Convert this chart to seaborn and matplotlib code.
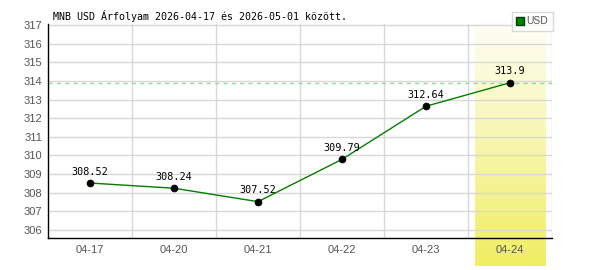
import numpy as np
import pandas as pd
import matplotlib
matplotlib.use("Agg")
import matplotlib.pyplot as plt
import matplotlib.transforms as mtransforms
from matplotlib.colors import LinearSegmentedColormap
from matplotlib.lines import Line2D
import seaborn as sns

dates = ["04-17", "04-20", "04-21", "04-22", "04-23", "04-24"]
rates = [308.52, 308.24, 307.52, 309.79, 312.64, 313.9]
y_ticks = [306, 307, 308, 309, 310, 311, 312, 313, 314, 315, 316, 317]
currency = "USD"
title = "MNB USD Árfolyam 2026-04-17 és 2026-05-01 között."
reference_value = rates[-1]

df = pd.DataFrame({"date": dates, "rate": rates})

sns.set_theme(style="white")
plt.rcParams["font.family"] = ["Liberation Sans", "DejaVu Sans"]

fig = plt.figure(figsize=(6, 2.7), dpi=100)
ax = fig.add_axes([0.08, 0.1185, 0.84, 0.7925])

# highlight gradient column for last day
cmap = LinearSegmentedColormap.from_list("hl", ["#fefef6", "#f0ee62"])
grad = np.linspace(0, 1, 256).reshape(-1, 1)
trans = mtransforms.blended_transform_factory(ax.transData, ax.transAxes)
last = len(dates) - 1
ax.imshow(grad, cmap=cmap, aspect="auto", origin="upper",
          extent=[last - 0.42, last + 0.42, -0.13, 1.005],
          transform=trans, clip_on=False, zorder=0.5)

# grid
for yt in y_ticks:
    ax.axhline(yt, color="#d8d8d8", lw=1, zorder=0.6)
for i in range(len(dates)):
    ax.axvline(i + 0.5, color="#d8d8d8", lw=1, zorder=0.6)

ax.axhline(reference_value, color="#90dc90", lw=1, ls=(0, (3, 3)), zorder=1)

sns.lineplot(data=df, x="date", y="rate", color="#008000", lw=1, ax=ax,
             zorder=2, legend=False)
sns.scatterplot(data=df, x="date", y="rate", color="black", s=26, ax=ax,
                zorder=3, legend=False, edgecolor="black")

for i, v in enumerate(rates):
    ax.annotate(f"{v:g}", (i, v), xytext=(0, 4.5), textcoords="offset points",
                ha="center", va="bottom", fontsize=7.3, family="DejaVu Sans Mono",
                color="black", zorder=4)

ax.set_xlim(-0.5, len(dates) - 0.5)
ax.set_ylim(305.57, 317.05)
ax.set_yticks(y_ticks)
ax.set_yticklabels([str(t) for t in y_ticks])
ax.set_xlabel("")
ax.set_ylabel("")
ax.tick_params(axis="both", length=0, labelsize=8, labelcolor="#555555")
ax.tick_params(axis="y", pad=4)
ax.tick_params(axis="x", pad=5)
for s in ["top", "right"]:
    ax.spines[s].set_visible(False)
for s in ["left", "bottom"]:
    ax.spines[s].set_color("black")
    ax.spines[s].set_linewidth(1)
ax.grid(False)

fig.text(0.088, 0.927, title, fontsize=7.2, family="DejaVu Sans Mono",
         color="black", ha="left", va="baseline")

handle = Line2D([], [], marker="s", color="#008000", lw=0, markersize=5.5,
                markeredgecolor="#004000")
leg = fig.legend([handle], [currency], loc="upper right",
                 bbox_to_anchor=(0.921, 0.957), fontsize=7.5, frameon=True,
                 fancybox=False, handlelength=0.6, handletextpad=0.3,
                 borderpad=0.45, borderaxespad=0)
leg.get_frame().set_edgecolor("#d0d0d0")
leg.get_frame().set_linewidth(1)
for t in leg.get_texts():
    t.set_color("#555555")

fig.savefig("out.png", dpi=100)
